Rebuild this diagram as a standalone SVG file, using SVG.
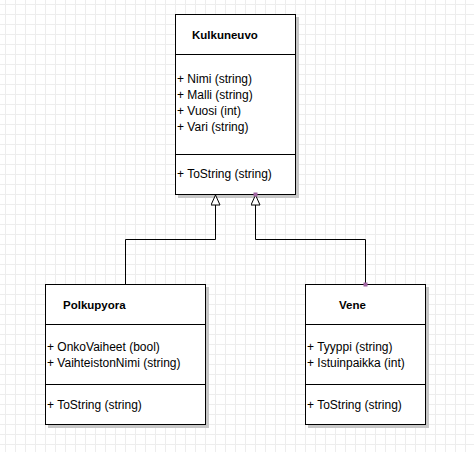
<svg xmlns="http://www.w3.org/2000/svg" width="474" height="452" viewBox="0 0 474 452">
<defs>
<pattern id="grid" x="5" y="4" width="10" height="10" patternUnits="userSpaceOnUse">
<path d="M0.5 0V10M0 0.5H10" stroke="#ededed" stroke-width="1" fill="none"/>
</pattern>
<marker id="inh" viewBox="0 0 12 10" refX="11" refY="5" markerWidth="12" markerHeight="10" markerUnits="userSpaceOnUse" orient="auto">
<path d="M1,0.5 L11,5 L1,9.5 Z" fill="#fff" stroke="#000" stroke-width="1"/>
</marker>
</defs>
<style>
.box{fill:#fff;stroke:#000;stroke-width:1}
.shadow{fill:#c8c8c8}
.div{stroke:#000;stroke-width:1}
.title{font-family:"Liberation Sans",Arial,sans-serif;font-size:11.5px;font-weight:bold;fill:#000}
.t{font-family:"Liberation Sans",Arial,sans-serif;font-size:12px;fill:#000}
.conn{fill:none;stroke:#000;stroke-width:1}
.handle{fill:#a266a2}
</style>
<rect width="474" height="452" fill="#fff"/>
<rect width="474" height="452" fill="url(#grid)"/>

<g id="Kulkuneuvo">
<rect class="shadow" x="178" y="17" width="121" height="181"/>
<rect class="box" x="175.5" y="14.5" width="120" height="180"/>
<line class="div" x1="175.5" y1="54.5" x2="295.5" y2="54.5"/>
<line class="div" x1="175.5" y1="154.5" x2="295.5" y2="154.5"/>
<text class="title" x="192" y="39">Kulkuneuvo</text>
<text class="t" x="177" y="83">+ Nimi (string)</text>
<text class="t" x="177" y="99">+ Malli (string)</text>
<text class="t" x="177" y="115">+ Vuosi (int)</text>
<text class="t" x="177" y="131">+ Vari (string)</text>
<text class="t" x="177" y="178">+ ToString (string)</text>
</g>

<g id="Polkupyora">
<rect class="shadow" x="48" y="287" width="161" height="141"/>
<rect class="box" x="45.5" y="284.5" width="160" height="140"/>
<line class="div" x1="45.5" y1="324.5" x2="205.5" y2="324.5"/>
<line class="div" x1="45.5" y1="384.5" x2="205.5" y2="384.5"/>
<text class="title" x="63" y="309">Polkupyora</text>
<text class="t" x="47" y="351">+ OnkoVaiheet (bool)</text>
<text class="t" x="47" y="367">+ VaihteistonNimi (string)</text>
<text class="t" x="47" y="409">+ ToString (string)</text>
</g>

<g id="Vene">
<rect class="shadow" x="308" y="287" width="121" height="141"/>
<rect class="box" x="305.5" y="284.5" width="120" height="140"/>
<line class="div" x1="305.5" y1="324.5" x2="425.5" y2="324.5"/>
<line class="div" x1="305.5" y1="384.5" x2="425.5" y2="384.5"/>
<text class="title" x="339" y="309">Vene</text>
<text class="t" x="307" y="351">+ Tyyppi (string)</text>
<text class="t" x="307" y="367">+ Istuinpaikka (int)</text>
<text class="t" x="307" y="409">+ ToString (string)</text>
</g>

<g id="connectors">
<path class="conn" d="M125.5 284.5V239.5H215.5V195" marker-end="url(#inh)"/>
<path class="conn" d="M365.5 284.5V239.5H255.5V195" marker-end="url(#inh)"/>
<rect class="handle" x="253.5" y="192.5" width="4" height="4"/>
<rect class="handle" x="363.5" y="282.5" width="4" height="4"/>
</g>
</svg>
